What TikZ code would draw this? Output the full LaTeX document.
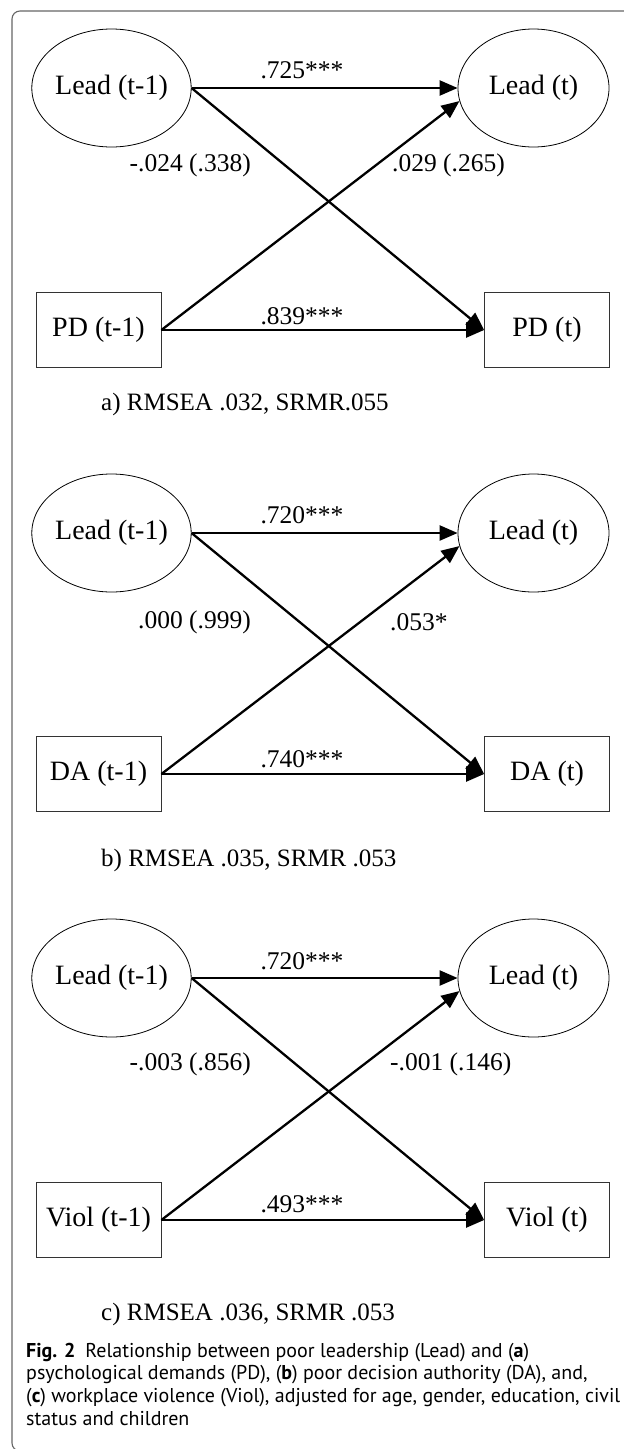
\documentclass[tikz,border=0pt]{standalone}
\usepackage{fontspec}
\setmainfont{Liberation Serif}
\newfontfamily\capfont{PT Sans}
\usetikzlibrary{shapes.geometric,arrows.meta}
\begin{document}
\begin{tikzpicture}[x=1pt,y=-1pt,
  lat/.style={draw=black,line width=0.8pt,ellipse,minimum width=151pt,minimum height=118pt,inner sep=0pt,font=\fontsize{28}{30}\selectfont},
  obs/.style={draw=black!80,line width=0.8pt,rectangle,minimum width=125pt,minimum height=75pt,inner sep=0pt,font=\fontsize{28}{30}\selectfont},
  coef/.style={inner sep=0pt,font=\fontsize{25.5}{28}\selectfont},
  fitline/.style={inner sep=0pt,anchor=west,font=\fontsize{25}{28}\selectfont},
  capline/.style={inner sep=0pt,anchor=base west,font=\capfont\fontsize{20}{22}\selectfont},
  arr/.style={line width=2.3pt,-{Triangle[length=18pt,width=15pt]}},
  frame/.style={draw=black!60,line width=1.1pt,rounded corners=8pt}
]
\useasboundingbox (0,0) rectangle (624,1449);
\draw[frame] (640,11) -- (12,11) -- (12,1451) -- (640,1451);

% panel a
\node[lat] (a1) at (111.5,88) {Lead (t-1)};
\node[lat] (a2) at (533.5,88) {Lead (t)};
\node[obs] (a3) at (98.5,330) {PD (t-1)};
\node[obs] (a4) at (547,330) {PD (t)};
\draw[arr] (a1.east) -- (a2.west);
\draw[arr] (a1.east) -- (a4.west);
\draw[arr] (a3.east) -- (a2.190);
\draw[arr] (a3.east) -- (a4.west);
\node[coef] (a5) at (302,70) {.725***};
\node[coef,anchor=east] (a6) at (251,165) {-.024 (.338)};
\node[coef,anchor=west] (a7) at (392,165) {.029 (.265)};
\node[coef] (a8) at (302,316) {.839***};
\node[fitline] (a9) at (101,404) {a) RMSEA .032, SRMR.055};

% panel b
\node[lat] (b1) at (111.5,533) {Lead (t-1)};
\node[lat] (b2) at (533.5,533) {Lead (t)};
\node[obs] (b3) at (98.5,774) {DA (t-1)};
\node[obs] (b4) at (547,774) {DA (t)};
\draw[arr] (b1.east) -- (b2.west);
\draw[arr] (b1.east) -- (b4.west);
\draw[arr] (b3.east) -- (b2.190);
\draw[arr] (b3.east) -- (b4.west);
\node[coef] (b5) at (302,515) {.720***};
\node[coef,anchor=east] (b6) at (251,622) {.000 (.999)};
\node[coef,anchor=west] (b7) at (390,622) {.053*};
\node[coef] (b8) at (302,759) {.740***};
\node[fitline] (b9) at (101,860) {b) RMSEA .035, SRMR .053};

% panel c
\node[lat] (c1) at (111.5,978) {Lead (t-1)};
\node[lat] (c2) at (533.5,978) {Lead (t)};
\node[obs] (c3) at (98.5,1220) {Viol (t-1)};
\node[obs] (c4) at (547,1220) {Viol (t)};
\draw[arr] (c1.east) -- (c2.west);
\draw[arr] (c1.east) -- (c4.west);
\draw[arr] (c3.east) -- (c2.190);
\draw[arr] (c3.east) -- (c4.west);
\node[coef] (c5) at (302,961) {.720***};
\node[coef,anchor=east] (c6) at (251,1064) {-.003 (.856)};
\node[coef,anchor=west] (c7) at (390,1064) {-.001 (.146)};
\node[coef] (c8) at (302,1204) {.493***};
\node[fitline] (c9) at (101,1314) {c) RMSEA .036, SRMR .053};

% caption
\node[capline] (cap1) at (26,1357) {\textbf{Fig. 2}\enspace Relationship between poor leadership (Lead) and (\textbf{a})};
\node[capline] (cap2) at (26,1379) {psychological demands (PD), (\textbf{b}) poor decision authority (DA), and,};
\node[capline] (cap3) at (26,1402) {(\textbf{c}) workplace violence (Viol), adjusted for age, gender, education, civil};
\node[capline] (cap4) at (26,1425) {status and children};
\end{tikzpicture}
\end{document}
